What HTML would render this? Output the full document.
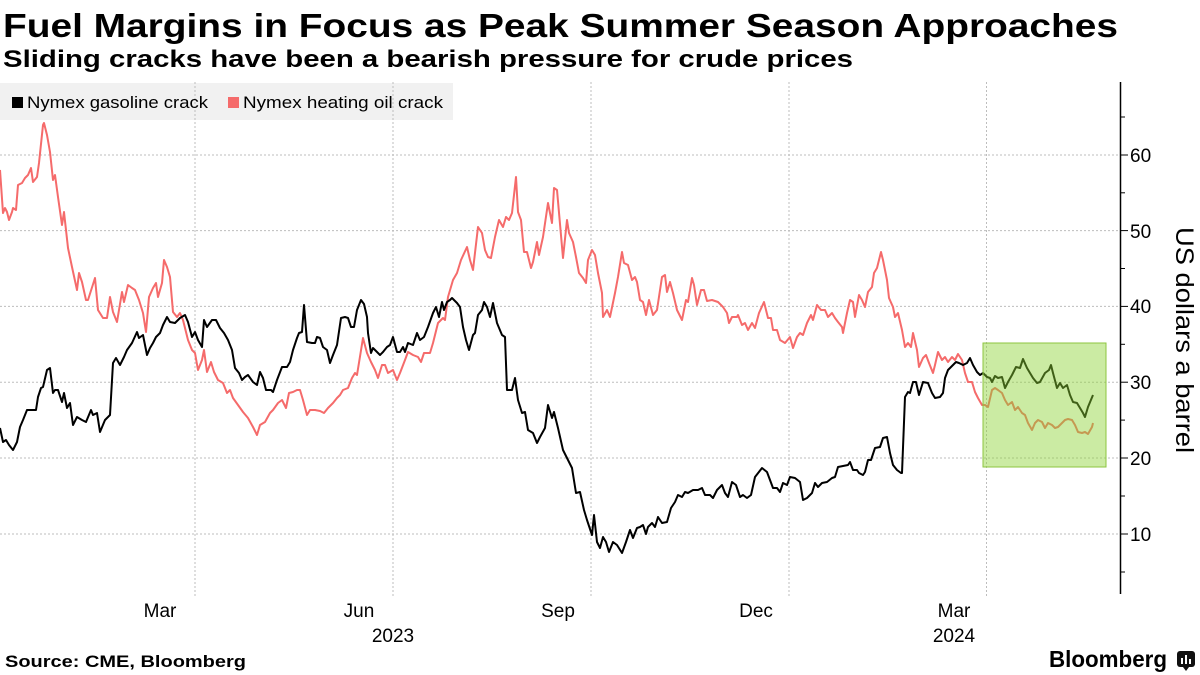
<!DOCTYPE html>
<html>
<head>
<meta charset="utf-8">
<style>
html,body{margin:0;padding:0;background:#fff;}
svg{display:block;}
text{font-family:"Liberation Sans",sans-serif;fill:#000;}
</style>
</head>
<body>
<svg width="1200" height="675" viewBox="0 0 1200 675" xmlns="http://www.w3.org/2000/svg">
<rect x="0" y="0" width="1200" height="675" fill="#fff"/>

<!-- Title -->
<text x="3" y="37" font-size="33" font-weight="bold" textLength="1115" lengthAdjust="spacingAndGlyphs">Fuel Margins in Focus as Peak Summer Season Approaches</text>
<text x="3" y="67" font-size="24" font-weight="bold" textLength="850" lengthAdjust="spacingAndGlyphs">Sliding cracks have been a bearish pressure for crude prices</text>

<!-- Legend background -->
<rect x="0" y="83" width="453" height="37" fill="#f1f1f1"/>

<!-- Horizontal gridlines -->
<g stroke="#bdbdbd" stroke-width="1" stroke-dasharray="2,2">
<line x1="0" y1="155" x2="1120" y2="155"/>
<line x1="0" y1="230.6" x2="1120" y2="230.6"/>
<line x1="0" y1="306.4" x2="1120" y2="306.4"/>
<line x1="0" y1="382.2" x2="1120" y2="382.2"/>
<line x1="0" y1="458" x2="1120" y2="458"/>
<line x1="0" y1="534" x2="1120" y2="534"/>
<!-- Vertical gridlines -->
<line x1="195" y1="82" x2="195" y2="597"/>
<line x1="393" y1="82" x2="393" y2="597"/>
<line x1="591" y1="82" x2="591" y2="597"/>
<line x1="789" y1="82" x2="789" y2="597"/>
<line x1="986.5" y1="82" x2="986.5" y2="597"/>
</g>

<!-- Legend -->
<rect x="12" y="97" width="11" height="11" fill="#000"/>
<text x="27" y="108" font-size="17" textLength="181" lengthAdjust="spacingAndGlyphs">Nymex gasoline crack</text>
<rect x="228" y="97" width="11" height="11" fill="#f56b6b"/>
<text x="243" y="108" font-size="17" textLength="200" lengthAdjust="spacingAndGlyphs">Nymex heating oil crack</text>

<!-- Red series -->
<polyline fill="none" stroke="#f56b6b" stroke-width="2" stroke-linejoin="round" points="
0,170 3,213 5,208 7,212 9,220 12,212 13,208 16,210 18,185 22,183 25,178 28,175 31,168 33,182 37,177 39,163 43,125 44,123 47,135 50,152 53,180 55,175 58,197 62,225 64,212 68,248 72,267 77,290 79,273 82,282 86,300 88,300 95,278 98,310 103,318 107,318 110,297 113,312 117,322 122,292 124,302 128,285 132,288 135,290 139,300 143,313 146,332 149,297 153,288 156,283 158,297 162,283 164,260 167,267 170,277 173,312 177,317 180,313 183,320 188,340 192,350 195,353 198,370 202,360 204,350 207,372 211,362 214,372 218,380 223,383 227,393 230,390 233,398 238,405 243,412 248,418 253,427 257,435 260,425 265,422 270,413 273,410 278,403 282,400 286,408 289,393 293,392 297,390 300,390 303,400 307,415 310,410 315,410 320,411 324,413 328,408 333,403 337,398 340,395 343,390 348,388 352,378 355,373 357,375 363,338 367,353 371,362 375,370 378,378 382,365 385,365 388,373 393,370 397,380 400,373
405,360 408,352 413,355 418,357 421,362 424,353 430,353 433,343 438,323 443,318 445,320 448,297 453,280 457,273 461,260 467,247 470,260 473,270 478,227 482,233 485,250 488,257 491,258 495,237 499,220 503,227 506,217 509,220 512,213 516,177 518,212 521,220 524,252 527,252 531,268 533,262 537,242 539,255 543,237 548,203 552,223 554,188 557,190 563,258 567,220 569,233 573,242 576,257 579,273 583,278 586,283 588,260 592,250 595,255 598,273 602,293 603,317 607,310 610,317 615,293 618,277 622,252 624,263 628,265 632,280 635,277 637,282 640,300 643,302 646,315 649,300 653,315 657,310 662,277 665,275 667,292 670,282 673,293 677,310 682,320 686,300 688,302 692,278 694,285 697,305 701,290 704,290 707,301 712,300 718,302 723,307 727,313 729,323 732,317 737,317 738,315 742,325 745,323 748,330 752,323 755,328 759,313 764,302 768,318 771,318 773,330 777,330 780,340 785,343 790,337 793,348 797,337 800,333
803,335 807,323 811,315 813,320 817,305 821,310 825,310 828,317 832,313 835,318 838,322 842,327 843,333 847,313 850,300 853,302 855,317 859,295 862,300 865,307 868,292 872,287 874,273 877,268 881,252 883,260 887,280 889,298 893,307 895,317 898,313 902,330 905,347 908,343 911,347 913,333 917,350 919,367 923,358 926,355 929,363 933,373 935,365 938,352 942,360 945,357 948,362 952,357 955,360 958,354 962,360 965,373 968,382 972,382 975,392 978,398 982,405 985,405 988,407 992,390 995,388 998,390 1002,393 1005,400 1008,405 1012,402 1015,410 1018,407 1022,413 1025,415 1028,423 1032,430 1035,423 1038,420 1042,422 1045,428 1048,423 1052,425 1055,428 1058,427 1062,423 1065,420 1068,419 1072,420 1075,425 1078,432 1082,433 1085,432 1088,434 1092,427 1093,423"/>

<!-- Black series -->
<polyline fill="none" stroke="#000" stroke-width="2" stroke-linejoin="round" points="
0,428 3,442 6,440 9,445 13,450 17,442 20,427 23,420 27,410 32,410 36,410 38,397 41,388 43,387 47,370 50,368 53,393 55,390 58,390 62,402 64,393 67,408 70,403 73,425 77,417 82,420 86,422 91,410 93,415 97,413 100,432 105,420 110,415 113,363 116,358 120,365 124,357 127,350 132,343 137,332 139,338 143,335 147,355 150,348 153,343 156,337 160,333 163,325 167,317 170,322 175,323 180,318 185,315 188,322 192,337 195,332 198,340 202,347 204,320 207,327 212,320 216,320 220,328 224,333 228,340 232,350 235,368 239,373 242,380 245,377 248,375 253,382 257,385 260,372 263,378 266,390 271,390 273,392 277,380 282,367 287,367 290,362 293,350 297,338 299,333 302,332 304,305 307,342 312,343 315,343 317,337 320,338 323,347 327,350 330,363 333,355 337,345 341,318 345,317 348,318 351,327 354,327 357,310 361,300 364,304 367,317 368,333 371,353 373,348 377,352 380,355 383,352 387,347 390,345 393,337 397,352 400,352
403,347 405,352 408,343 413,345 417,333 420,340 424,337 428,327 433,313 436,307 439,317 442,302 444,310 447,302 450,300 452,298 457,303 460,307 463,327 466,340 469,350 473,335 475,333 478,315 482,310 484,302 487,307 490,317 493,303 497,323 502,335 505,337 507,390 512,390 515,378 518,400 522,413 525,412 528,430 533,433 537,443 540,437 545,428 548,405 552,418 554,412 558,428 563,450 568,460 572,468 576,493 580,492 584,510 587,520 592,535 594,515 597,542 600,548 603,537 606,542 609,552 613,542 617,545 622,553 626,542 630,530 633,538 637,528 640,527 643,525 646,534 648,527 652,523 655,527 658,517 662,523 667,522 671,508 675,502 678,495 682,497 685,492 688,493 693,490 698,490 702,488 705,495 710,495 713,498 717,490 722,485 725,493 728,497 732,482 736,485 740,497 743,495 747,498 751,495 755,477 762,468 767,472 770,480 773,488 777,488 780,492 783,483 787,485 790,477 795,478 800,482
803,500 807,498 812,493 815,483 818,487 822,483 827,482 832,478 835,477 838,467 843,466 848,465 850,462 853,470 857,470 859,473 863,475 865,472 868,460 871,460 875,448 880,447 883,438 887,437 890,453 893,465 897,470 901,473 902,473 905,397 908,392 910,393 913,382 916,382 919,395 923,382 928,383 932,393 935,398 940,397 943,393 945,378 948,370 953,365 956,362 959,363 963,365 967,363 970,358 973,365 977,372 980,375 983,373 987,377 990,378 992,382 995,376 998,378 1002,377 1005,388 1008,382 1012,375 1016,367 1020,368 1023,359 1027,368 1030,373 1033,378 1037,383 1040,382 1045,373 1049,370 1051,365 1053,373 1057,388 1060,383 1063,388 1067,385 1070,395 1073,402 1077,403 1080,408 1083,413 1085,417 1088,407 1093,395"/>

<!-- Highlight box -->
<rect x="983" y="343" width="123" height="124" fill="rgb(140,210,50)" fill-opacity="0.45" stroke="#8cc63f" stroke-width="1"/>

<!-- Right axis -->
<line x1="1120.5" y1="82" x2="1120.5" y2="594" stroke="#000" stroke-width="1.5"/>
<g stroke="#000" stroke-width="1">
<line x1="1120" y1="155" x2="1128" y2="155"/>
<line x1="1120" y1="230.6" x2="1128" y2="230.6"/>
<line x1="1120" y1="306.4" x2="1128" y2="306.4"/>
<line x1="1120" y1="382.2" x2="1128" y2="382.2"/>
<line x1="1120" y1="458" x2="1128" y2="458"/>
<line x1="1120" y1="534" x2="1128" y2="534"/>
<line x1="1120" y1="117" x2="1125" y2="117"/>
<line x1="1120" y1="192.8" x2="1125" y2="192.8"/>
<line x1="1120" y1="268.5" x2="1125" y2="268.5"/>
<line x1="1120" y1="344.3" x2="1125" y2="344.3"/>
<line x1="1120" y1="420.1" x2="1125" y2="420.1"/>
<line x1="1120" y1="496" x2="1125" y2="496"/>
<line x1="1120" y1="572" x2="1125" y2="572"/>
</g>
<g font-size="19">
<text x="1130" y="162">60</text>
<text x="1130" y="238">50</text>
<text x="1130" y="313">40</text>
<text x="1130" y="389">30</text>
<text x="1130" y="465">20</text>
<text x="1130" y="541">10</text>
</g>
<text transform="translate(1176,340) rotate(90)" text-anchor="middle" font-size="25" textLength="226" lengthAdjust="spacingAndGlyphs">US dollars a barrel</text>

<!-- X axis labels -->
<g font-size="19" text-anchor="middle">
<text x="160" y="617">Mar</text>
<text x="359" y="617">Jun</text>
<text x="558" y="617">Sep</text>
<text x="756" y="617">Dec</text>
<text x="954" y="617">Mar</text>
<text x="393" y="642">2023</text>
<text x="954" y="642">2024</text>
</g>

<!-- Footer -->
<text x="5" y="667" font-size="17" font-weight="bold" textLength="241" lengthAdjust="spacingAndGlyphs">Source: CME, Bloomberg</text>
<text x="1049" y="667" font-size="23" font-weight="bold" textLength="118" lengthAdjust="spacingAndGlyphs">Bloomberg</text>
<g>
<rect x="1177" y="651" width="18" height="16" rx="3" fill="#111"/>
<polygon points="1183,667 1189,667 1186,671" fill="#111"/>
<rect x="1181" y="658" width="2" height="6" fill="#fff"/>
<rect x="1185" y="655" width="2" height="9" fill="#fff"/>
<rect x="1189" y="659" width="2" height="5" fill="#fff"/>
</g>
</svg>
</body>
</html>
